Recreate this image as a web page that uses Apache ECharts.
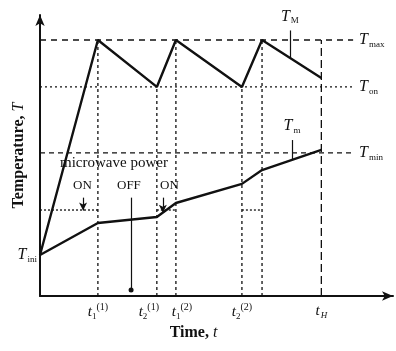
<!DOCTYPE html>
<html>
<head>
<meta charset="utf-8">
<script src="https://cdn.jsdelivr.net/npm/echarts@6/dist/echarts.min.js"></script>
<style>
  html, body { margin: 0; padding: 0; background: #fff; }
  #main { width: 396px; height: 351px; }
</style>
</head>
<body>
<div id="main"></div>
<script>
// time axis 0..100, temperature axis 0..100 (arbitrary units)
var tMarks = [16.4, 33.1, 38.5, 57.2, 62.9, 79.7];   // t1(1), t2(1), t1(2), t2(2), t1(3), tH
var tLabelMarks = [16.4, 33.1, 38.5, 57.2, 79.7];
var tLabels = ['{t|t}{s|1}{p|(1)}', '{t|t}{s|2}{p2|(1)}', '{t1|t}{s|1}{p|(2)}', '{t|t}{s|2}{p|(2)}', '{t|t}{h|H}'];

var T_ini = 14.6, T_on = 74.4, T_max = 91.1, T_min = 50.9;
var P_on = 30.6;     // microwave power ON level
var guideEnd = 88.7;

// surface (max) temperature, T_M
var upperTime = [0, 16.4, 33.1, 38.5, 57.2, 62.9, 79.7];
var upperTemp = [14.6, 91.1, 74.4, 91.1, 74.4, 91.1, 77.6];
// inner (min) temperature, T_m
var lowerTime = [0, 16.4, 33.1, 38.5, 57.2, 62.9, 79.7];
var lowerTemp = [14.6, 26.0, 28.1, 33.1, 39.9, 44.8, 52.0];

var serif = 'Liberation Serif';
var ink = '#111';

function pairs(xs, ys) {
  return xs.map(function (x, i) { return [x, ys[i]]; });
}

var chart = echarts.init(document.getElementById('main'));

var italicRich = {
  i: { fontFamily: serif, fontStyle: 'italic', fontSize: 16, color: ink },
  s: { fontFamily: serif, fontSize: 9, color: ink, padding: [9, 0, 0, 1] }
};

function guide(data, type, lbl) {
  var s = {
    type: 'line',
    data: data,
    symbol: 'none',
    silent: true,
    lineStyle: { color: ink, width: 1.3, type: type }
  };
  if (lbl) {
    s.endLabel = { show: true, distance: 6, formatter: '{i|T}{s|' + lbl + '}', rich: italicRich };
  }
  return s;
}

var series = [];
// horizontal guides
series.push(guide([[0, T_max], [guideEnd, T_max]], [6, 5], 'max'));
series.push(guide([[0, T_on], [guideEnd, T_on]], [2, 3], 'on'));
series.push(guide([[0, T_min], [guideEnd, T_min]], [5, 4], 'min'));
series.push(guide([[0, P_on], [tMarks[0], P_on]], [2, 2]));
series.push(guide([[tMarks[1], P_on], [tMarks[2], P_on]], [2, 2]));
series.push(guide([[tMarks[3], P_on], [tMarks[4], P_on]], [2, 2]));
// vertical guides
series.push(guide([[tMarks[0], 0], [tMarks[0], T_max]], [3, 3]));
series.push(guide([[tMarks[1], 0], [tMarks[1], T_on]], [3, 3]));
series.push(guide([[tMarks[2], 0], [tMarks[2], T_max]], [3, 3]));
series.push(guide([[tMarks[3], 0], [tMarks[3], T_on]], [3, 3]));
series.push(guide([[tMarks[4], 0], [tMarks[4], T_max]], [3, 3]));
series.push(guide([[tMarks[5], 0], [tMarks[5], T_max]], [8, 4]));

// T_M and T_m curves
series.push({
  type: 'line', data: pairs(upperTime, upperTemp), symbol: 'none',
  lineStyle: { color: ink, width: 2.4 }
});
series.push({
  type: 'line', data: pairs(lowerTime, lowerTemp), symbol: 'none',
  lineStyle: { color: ink, width: 2.4 }
});

// pointers for T_M, T_m and microwave power ON/OFF
function pointer(from, to, endSym, text) {
  return {
    type: 'line', data: [], silent: true,
    markLine: {
      silent: true,
      symbol: ['none', endSym],
      symbolSize: endSym === 'circle' ? 5 : [6, 8],
      label: text ? {
        show: true, position: 'start', distance: 5,
        formatter: text.f, rich: text.rich
      } : { show: false },
      lineStyle: { color: ink, width: 1.2, type: 'solid' },
      data: [[{ coord: from }, { coord: to }]]
    }
  };
}
series.push(pointer([70.8, 94.5], [70.8, 84.7], 'none', { f: '{i|T}{s|M}', rich: italicRich }));
series.push(pointer([71.4, 55.5], [71.4, 48.4], 'none', { f: '{i|T}{s|m}', rich: italicRich }));
series.push(pointer([12.2, 35.0], [12.2, 30.4], 'arrow'));
series.push(pointer([34.8, 35.0], [34.8, 29.6], 'arrow'));
series.push(pointer([25.8, 35.0], [25.8, 2.1], 'circle'));

chart.setOption({
  animation: false,
  backgroundColor: '#fff',
  grid: { left: 40, right: 3, top: 15, bottom: 55, containLabel: false, outerBoundsMode: 'none' },
  xAxis: {
    type: 'value', min: 0, max: 100,
    name: '{a|Time, }{b|t}',
    nameLocation: 'middle', nameGap: 29, nameMoveOverlap: false,
    nameTextStyle: {
      padding: [0, 46, 0, 0],
      rich: {
        a: { fontFamily: serif, fontSize: 16, fontWeight: 'bold', color: ink },
        b: { fontFamily: serif, fontSize: 16, fontStyle: 'italic', color: ink }
      }
    },
    splitLine: { show: false },
    axisTick: { show: false },
    axisLine: {
      onZero: false,
      symbol: ['none', 'arrow'], symbolSize: [7, 11],
      lineStyle: { color: ink, width: 2 }
    },
    axisLabel: {
      customValues: tLabelMarks,
      margin: 6,
      formatter: function (v) {
        var i = tLabelMarks.indexOf(v);
        return i < 0 ? '' : tLabels[i];
      },
      rich: {
        t: { fontFamily: serif, fontStyle: 'italic', fontSize: 15, color: ink },
        t1: { fontFamily: serif, fontStyle: 'italic', fontSize: 15, color: ink, padding: [0, 0, 0, 12] },
        s: { fontFamily: serif, fontSize: 9, color: ink, padding: [9, 0, 0, 0] },
        h: { fontFamily: serif, fontStyle: 'italic', fontSize: 9, color: ink, padding: [9, 0, 0, 1] },
        p: { fontFamily: serif, fontSize: 10, color: ink, padding: [0, 0, 11, 0] },
        p2: { fontFamily: serif, fontSize: 10, color: ink, padding: [0, 16, 11, 0] }
      }
    }
  },
  yAxis: {
    type: 'value', min: 0, max: 100,
    name: '{a|Temperature, }{b|T}',
    nameLocation: 'middle', nameGap: 13, nameRotate: 90, nameMoveOverlap: false,
    nameTextStyle: {
      rich: {
        a: { fontFamily: serif, fontSize: 16, fontWeight: 'bold', color: ink },
        b: { fontFamily: serif, fontSize: 16, fontStyle: 'italic', color: ink }
      }
    },
    splitLine: { show: false },
    axisTick: { show: false },
    axisLine: {
      onZero: false,
      symbol: ['none', 'arrow'], symbolSize: [7, 11],
      lineStyle: { color: ink, width: 2 }
    },
    axisLabel: {
      customValues: [T_ini],
      margin: 3,
      formatter: '{i|T}{s|ini}',
      rich: italicRich
    }
  },
  graphic: [
    { type: 'text', left: 60, top: 156,
      style: { text: 'microwave power', font: '15px "Liberation Serif"', fill: ink } },
    { type: 'text', left: 73, top: 179,
      style: { text: 'ON', font: '13px "Liberation Serif"', fill: ink } },
    { type: 'text', left: 117, top: 179,
      style: { text: 'OFF', font: '13px "Liberation Serif"', fill: ink } },
    { type: 'text', left: 160, top: 179,
      style: { text: 'ON', font: '13px "Liberation Serif"', fill: ink } }
  ],
  series: series
});
</script>
</body>
</html>
